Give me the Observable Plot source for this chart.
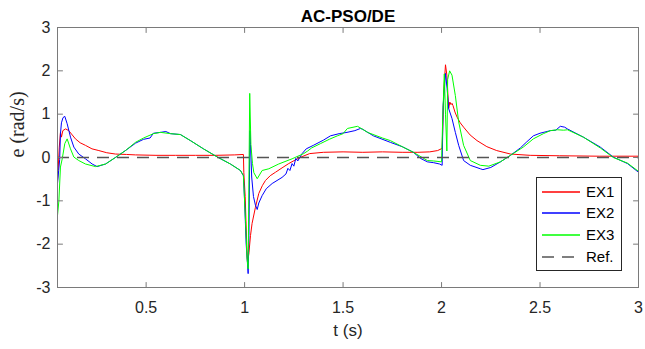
<!DOCTYPE html>
<html>
<head>
<meta charset="utf-8">
<script src="https://cdn.jsdelivr.net/npm/d3@7"></script>
<script src="https://cdn.jsdelivr.net/npm/@observablehq/plot@0.6"></script>
<style>
  html, body { margin: 0; padding: 0; background: #fff; }
  #wrap { position: relative; width: 645px; height: 349px; }
  #legend { position: absolute; left: 536px; top: 177px; }
</style>
</head>
<body>
<div id="wrap"><div id="chart"></div></div>
<script>
// ---- data ----
const titleText = "AC-PSO/DE";
const xLabel = "t (s)";
const yLabel = "e (rad/s)";
const xTicks = [0.5, 1, 1.5, 2, 2.5, 3];
const yTicks = [-3, -2, -1, 0, 1, 2, 3];
const seriesNames = ["EX1", "EX2", "EX3", "Ref."];
const seriesColors = ["#ff0000", "#0000ff", "#00ff00", "#555555"];
const refValue = [0];

const ex1T = [0.05,0.054,0.059,0.065,0.070,0.077,0.091,0.107,0.125,0.141,0.165,0.192,0.225,0.26,0.30,0.344,0.40,0.446,0.55,0.65,0.75,0.85,0.95,0.994,0.996,1.003,1.010,1.015,1.022,1.030,1.038,1.055,1.072,1.09,1.106,1.13,1.157,1.19,1.224,1.26,1.292,1.33,1.40,1.50,1.60,1.70,1.80,1.88,1.94,1.98,2.003,2.012,2.02,2.027,2.036,2.042,2.048,2.053,2.058,2.068,2.079,2.095,2.112,2.145,2.18,2.23,2.28,2.35,2.45,2.6,2.8,3.0];
const ex1E = [-0.53,-0.22,0.24,0.58,0.47,0.62,0.66,0.62,0.52,0.43,0.34,0.28,0.2,0.16,0.11,0.08,0.07,0.06,0.05,0.05,0.05,0.05,0.06,0.07,-0.35,-0.9,-1.9,-2.45,-2.2,-1.8,-1.52,-1.15,-0.83,-0.65,-0.53,-0.42,-0.34,-0.24,-0.14,-0.05,0.02,0.09,0.12,0.13,0.12,0.13,0.12,0.12,0.13,0.16,0.21,1.6,2.14,1.9,1.13,1.28,1.22,1.25,1.2,1.05,0.93,0.8,0.7,0.52,0.39,0.25,0.16,0.08,0.05,0.04,0.03,0.03];

const ex2T = [0.05,0.056,0.061,0.065,0.070,0.078,0.087,0.099,0.116,0.133,0.158,0.192,0.226,0.251,0.294,0.344,0.395,0.446,0.487,0.52,0.537,0.573,0.60,0.624,0.674,0.725,0.791,0.862,0.928,0.979,0.994,1.0,1.008,1.018,1.022,1.027,1.030,1.036,1.045,1.055,1.064,1.072,1.089,1.11,1.14,1.19,1.21,1.22,1.23,1.241,1.25,1.26,1.27,1.292,1.313,1.349,1.40,1.436,1.48,1.52,1.56,1.588,1.60,1.654,1.74,1.80,1.857,1.893,1.928,1.96,1.99,2.003,2.008,2.02,2.028,2.036,2.053,2.07,2.087,2.112,2.146,2.197,2.21,2.25,2.299,2.35,2.40,2.43,2.466,2.50,2.553,2.58,2.603,2.625,2.639,2.72,2.806,2.872,2.944,3.0];
const ex2E = [-0.6,-0.3,-0.05,0.55,0.8,0.92,0.95,0.78,0.47,0.24,0.08,-0.03,-0.15,-0.21,-0.15,0.0,0.16,0.33,0.42,0.45,0.56,0.58,0.6,0.55,0.53,0.39,0.2,0.01,-0.15,-0.3,-0.42,-1.0,-2.0,-2.68,-1.8,0.62,0.3,-0.45,-0.9,-1.1,-1.2,-1.05,-0.88,-0.72,-0.6,-0.46,-0.38,-0.25,-0.3,-0.14,-0.2,-0.02,-0.08,0.09,0.2,0.28,0.40,0.5,0.55,0.58,0.62,0.67,0.65,0.5,0.35,0.25,0.12,-0.02,-0.1,-0.12,-0.15,-0.18,1.2,1.94,1.6,1.13,0.9,0.58,0.28,-0.07,-0.18,-0.26,-0.28,-0.23,-0.1,0.05,0.22,0.35,0.5,0.56,0.62,0.63,0.72,0.7,0.66,0.47,0.24,0.01,-0.14,-0.34];

const ex3T = [0.05,0.057,0.065,0.074,0.087,0.099,0.116,0.133,0.158,0.192,0.243,0.294,0.344,0.395,0.446,0.487,0.537,0.573,0.624,0.674,0.725,0.791,0.862,0.928,0.979,0.994,1.005,1.012,1.018,1.022,1.026,1.032,1.04,1.047,1.064,1.089,1.123,1.173,1.241,1.30,1.32,1.34,1.385,1.43,1.471,1.50,1.522,1.573,1.60,1.624,1.70,1.74,1.80,1.857,1.928,1.96,2.0,2.006,2.014,2.02,2.027,2.031,2.041,2.053,2.07,2.087,2.112,2.146,2.197,2.24,2.299,2.35,2.415,2.466,2.517,2.553,2.588,2.62,2.639,2.72,2.806,2.872,2.944,3.0];
const ex3E = [-1.34,-1.0,-0.22,-0.03,0.32,0.43,0.2,0.01,-0.07,-0.15,-0.21,-0.15,0.0,0.16,0.35,0.45,0.55,0.58,0.55,0.53,0.39,0.2,0.01,-0.15,-0.3,-0.42,-1.5,-2.3,-2.57,-0.5,1.48,0.3,-0.14,-0.35,-0.49,-0.3,-0.26,-0.15,-0.03,0.09,0.15,0.22,0.32,0.42,0.5,0.55,0.67,0.72,0.65,0.58,0.45,0.39,0.25,0.12,-0.07,-0.08,-0.1,0.9,1.93,1.0,0.15,1.8,2.0,1.9,1.43,0.82,0.28,-0.07,-0.18,-0.2,-0.1,0.05,0.24,0.43,0.55,0.62,0.64,0.63,0.64,0.47,0.22,0.0,-0.13,-0.32];

// ---- build tables ----
const toRows = (T, E) => T.map((t, i) => ({t, e: E[i]}));
const series = [toRows(ex1T, ex1E), toRows(ex2T, ex2E), toRows(ex3T, ex3E)];

const axisColor = "#7a7a7a";
const tickShape = {draw(ctx, l) { ctx.moveTo(0, 0); ctx.lineTo(0, -l); }};
const tickOpts = {length: 5, anchor: "start", shape: tickShape, stroke: axisColor, strokeWidth: 1};

const chart = Plot.plot({
  width: 645,
  height: 349,
  marginLeft: 57,
  marginRight: 7,
  marginTop: 27,
  marginBottom: 62,
  x: {domain: [0.05, 3]},
  y: {domain: [-3, 3]},
  style: {fontFamily: "'Liberation Sans', Arial, sans-serif", fontSize: "16px", color: "#262626", background: "#fff"},
  marks: [
    ...series.map((rows, i) => Plot.line(rows, {x: "t", y: "e", stroke: seriesColors[i], strokeWidth: 1})),
    Plot.ruleY(refValue, {stroke: seriesColors[3], strokeWidth: 1.5, strokeDasharray: "12,8"}),
    Plot.frame({stroke: axisColor}),
    Plot.vector(xTicks, {...tickOpts, x: d => d, frameAnchor: "bottom", rotate: 0}),
    Plot.vector(xTicks, {...tickOpts, x: d => d, frameAnchor: "top", rotate: 180}),
    Plot.vector(yTicks, {...tickOpts, y: d => d, frameAnchor: "left", rotate: 90}),
    Plot.vector(yTicks, {...tickOpts, y: d => d, frameAnchor: "right", rotate: -90}),
    Plot.axisX(xTicks, {tickSize: 0, tickPadding: 14, label: null, tickFormat: d => String(d), fontSize: 16, fill: "#262626"}),
    Plot.axisY(yTicks, {tickSize: 0, tickPadding: 7, label: null, tickFormat: d => String(d), fontSize: 16, fill: "#262626"}),
    Plot.text([titleText], {text: d => d, frameAnchor: "top", dy: -18, fontWeight: "bold", fontSize: 17, fill: "#000"}),
    Plot.text([xLabel], {text: d => d, frameAnchor: "bottom", dy: 48, fontSize: 17, fill: "#262626"}),
    Plot.text([yLabel], {text: d => d, frameAnchor: "left", dx: -40, rotate: -90, fontFamily: "'Liberation Serif', 'Times New Roman', serif", fontSize: 20, fill: "#262626"})
  ]
});
document.getElementById("chart").appendChild(chart);

// ---- legend ----
const lg = d3.select("#wrap").append("svg").attr("id", "legend").attr("width", 87).attr("height", 95);
lg.append("rect").attr("x", 0.5).attr("y", 0.5).attr("width", 85).attr("height", 93)
  .attr("fill", "#fff").attr("stroke", "#262626").attr("stroke-width", 1);
seriesNames.forEach((name, i) => {
  const cy = Math.round(14.5 + i * 21.8);
  lg.append("line").attr("x1", 6).attr("x2", 44).attr("y1", cy).attr("y2", cy)
    .attr("stroke", seriesColors[i]).attr("stroke-width", 1.5)
    .attr("stroke-dasharray", i === 3 ? "12,8" : null);
  lg.append("text").attr("x", 50).attr("y", cy).attr("dy", "0.35em")
    .attr("font-family", "'Liberation Sans', Arial, sans-serif").attr("font-size", 15)
    .attr("fill", "#000").text(name);
});
</script>
</body>
</html>
